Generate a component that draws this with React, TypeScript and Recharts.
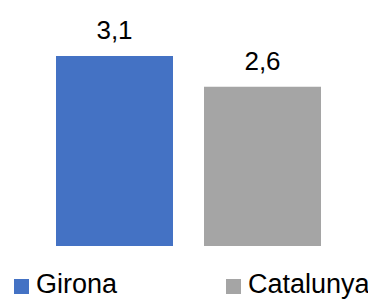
import { BarChart, Bar, XAxis, YAxis, LabelList, Legend } from 'recharts'

const categories = ['Total']
const seriesNames = ['Girona', 'Catalunya']
const gironaValues = [3.1]
const catalunyaValues = [2.6]
const colors = ['#4472C4', '#A5A5A5']

const data = categories.map((c, i) => ({
  name: c,
  Girona: gironaValues[i],
  Catalunya: catalunyaValues[i]
}))

const font = '"Liberation Sans", Arial, sans-serif'
const fmt = (v: any) => String(v).replace('.', ',')

const LegendContent = ({ payload }: any) => {
  const items = [...(payload || [])].sort(
    (a: any, b: any) => seriesNames.indexOf(a.value) - seriesNames.indexOf(b.value)
  )
  return (
    <div style={{ display: 'flex', height: 30, fontFamily: font, fontSize: 27, color: '#000' }}>
      {items.map((p: any, i: number) => (
        <div
          key={p.value}
          style={{ display: 'flex', alignItems: 'center', width: i === 0 ? 212 : 148, height: 30 }}
        >
          <span
            style={{
              width: 15,
              height: 15,
              background: p.color,
              marginRight: 7,
              flexShrink: 0,
              position: 'relative',
              top: 2
            }}
          />
          <span style={{ lineHeight: '30px', whiteSpace: 'nowrap' }}>{p.value}</span>
        </div>
      ))}
    </div>
  )
}

export default function App() {
  return (
    <BarChart
      width={361}
      height={291}
      data={data}
      margin={{ top: 48, right: 0, left: 0, bottom: 23 }}
      barSize={117}
      barGap={31}
    >
      <XAxis dataKey="name" hide />
      <YAxis hide domain={[0, 3.1]} />
      <Legend
        content={<LegendContent />}
        verticalAlign="bottom"
        wrapperStyle={{ left: 6, bottom: 0, width: 362 }}
      />
      {seriesNames.map((s, i) => (
        <Bar key={s} dataKey={s} fill={colors[i]} isAnimationActive={false}>
          <LabelList
            dataKey={s}
            position="top"
            offset={17}
            formatter={fmt}
            style={{ fontFamily: font, fontSize: 26, fill: '#000' }}
          />
        </Bar>
      ))}
    </BarChart>
  )
}
